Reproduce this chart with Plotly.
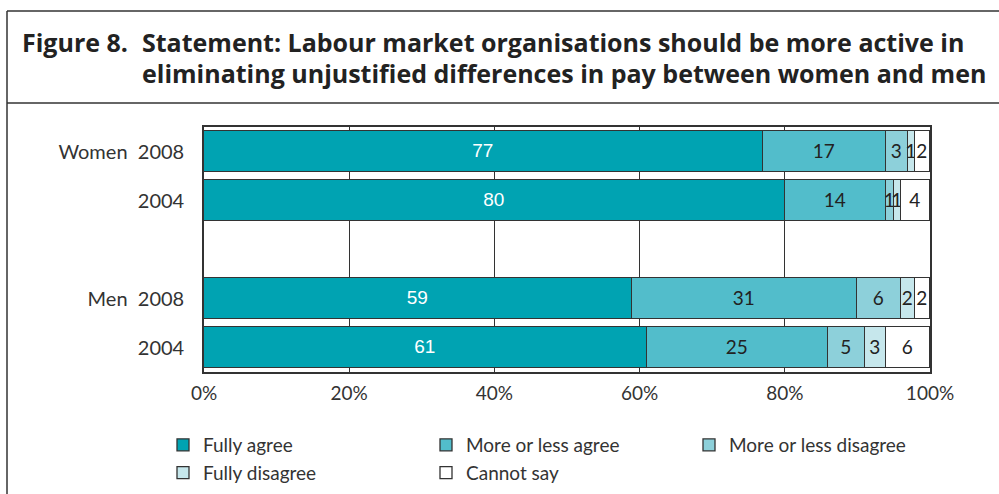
import plotly.graph_objects as go

# Survey responses (percent of respondents)
rows = ["Women  2008", "2004", "", "Men  2008", "2004"]
answers = ["Fully agree", "More or less agree", "More or less disagree",
           "Fully disagree", "Cannot say"]
fully_agree = [77, 80, None, 59, 61]
more_or_less_agree = [17, 14, None, 31, 25]
more_or_less_disagree = [3, 1, None, 6, 5]
fully_disagree = [1, 1, None, 2, 3]
cannot_say = [2, 4, None, 2, 6]
x_ticks = [0, 20, 40, 60, 80, 100]
x_tick_labels = ["0%", "20%", "40%", "60%", "80%", "100%"]
title_label = "Figure 8."
title_lines = ["Statement: Labour market organisations should be more active in",
               "eliminating unjustified differences in pay between women and men"]

series = [fully_agree, more_or_less_agree, more_or_less_disagree,
          fully_disagree, cannot_say]
colors = ["#00A3B2", "#52BDCB", "#8DD0DA", "#C6E7EC", "#FFFFFF"]
text_colors = ["#FFFFFF", "#222222", "#222222", "#222222", "#222222"]
text_fonts = ["Liberation Sans", "Lato", "Lato", "Lato", "Lato"]

FONT = "Lato"
W, H = 999, 494
L, R, T, B = 204, 69, 127, 122
PW, PH = W - L - R, H - T - B


def px(xp):
    return (xp - L) / PW


def py(yp):
    return (H - B - yp) / PH


ypos = list(range(len(rows)))

fig = go.Figure()
for name, vals, col, tcol, tfont in zip(answers, series, colors, text_colors, text_fonts):
    fig.add_trace(go.Bar(
        name=name,
        y=ypos,
        x=vals,
        orientation="h",
        width=0.84,
        marker=dict(color=col, line=dict(color="#333333", width=1.3)),
        text=[("" if v is None else str(v)) for v in vals],
        textposition="inside",
        insidetextanchor="middle",
        constraintext="none",
        textangle=0,
        textfont=dict(family=tfont, size=19, color=tcol),
        hoverinfo="skip",
    ))

fig.update_layout(
    width=W, height=H,
    margin=dict(l=L, r=R, t=T, b=B, autoexpand=False),
    barmode="stack",
    paper_bgcolor="white",
    plot_bgcolor="white",
    font=dict(family=FONT, size=19, color="#333333"),
    bargap=0,
    legend=dict(
        orientation="h",
        x=px(163), xanchor="left",
        y=py(426), yanchor="top",
        entrywidth=218,
        entrywidthmode="pixels",
        traceorder="normal",
        font=dict(family=FONT, size=19, color="#333333"),
        bgcolor="rgba(0,0,0,0)",
        itemclick=False,
    ),
    uniformtext=dict(mode=False),
)

fig.update_xaxes(
    range=[0, 100],
    tickvals=x_ticks,
    ticktext=x_tick_labels,
    showgrid=True,
    gridcolor="#333333",
    gridwidth=1.2,
    showline=True,
    linecolor="#333333",
    linewidth=1.6,
    mirror=True,
    ticks="",
    ticklabelstandoff=3,
    zeroline=False,
    tickfont=dict(family=FONT, size=19, color="#333333"),
    fixedrange=True,
)
fig.update_yaxes(
    range=[len(rows) - 0.5, -0.5],
    tickvals=ypos,
    ticktext=rows,
    showgrid=False,
    showline=True,
    linecolor="#333333",
    linewidth=1.6,
    mirror=True,
    ticks="",
    ticklabelstandoff=14,
    zeroline=False,
    tickfont=dict(family=FONT, size=20, color="#333333"),
    fixedrange=True,
)

# Outer box with a ruled title band
frame = dict(color="#333333", width=1.5)
fig.add_shape(type="line", xref="paper", yref="paper",
              x0=px(7), x1=px(7), y0=py(11), y1=py(520), line=frame)
fig.add_shape(type="line", xref="paper", yref="paper",
              x0=px(7), x1=px(1020), y0=py(11), y1=py(11), line=frame)
fig.add_shape(type="line", xref="paper", yref="paper",
              x0=px(7), x1=px(1020), y0=py(103), y1=py(103), line=frame)

title_font = dict(family="Open Sans", size=25, color="#222222")
fig.add_annotation(
    xref="paper", yref="paper", x=px(20), y=py(42),
    xanchor="left", yanchor="middle", showarrow=False,
    text=f"<b>{title_label}</b>", font=title_font,
)
for line, ymid in zip(title_lines, [42, 73]):
    fig.add_annotation(
        xref="paper", yref="paper", x=px(140), y=py(ymid),
        xanchor="left", yanchor="middle", showarrow=False,
        text=f"<b>{line}</b>", font=title_font,
    )

fig.write_html("out.html")
